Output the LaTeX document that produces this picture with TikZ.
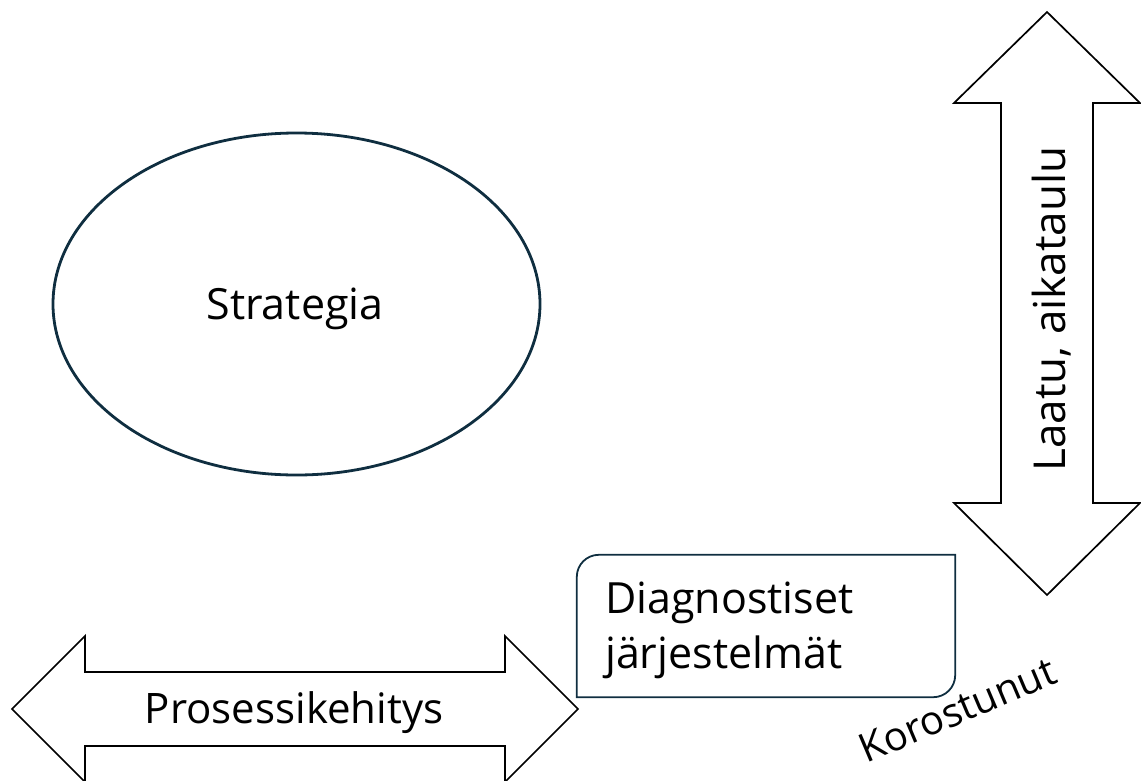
\documentclass[tikz,border=0pt]{standalone}
\usepackage{fontspec}
\setmainfont{Open Sans}
\usetikzlibrary{shapes.geometric}
\definecolor{navyline}{HTML}{0F2E40}
\begin{document}
\begin{tikzpicture}[x=1pt,y=-1pt,
  bigarrow/.style={draw=black,line width=1.7pt,line join=miter,fill=white},
  navyshape/.style={draw=navyline},
  lbl/.style={inner sep=0pt,text=black,anchor=base},
]
\useasboundingbox (0,0) rectangle (1141,780);

% strategy ellipse
\node[navyshape,ellipse,line width=2.8pt,minimum width=487pt,minimum height=342pt,inner sep=0pt] (strategia) at (296.5,304) {};
\node[lbl,font=\fontsize{43}{50}\selectfont] (strategiatext) at (295,319) {Strategia};

% horizontal double arrow
\coordinate (hl) at (12,709);
\coordinate (hr) at (578,709);
\draw[bigarrow] (hl) -- (85,636) -- (85,672) -- (505,672) -- (505,636) -- (hr)
  -- (505,782) -- (505,746) -- (85,746) -- (85,782) -- cycle;
\node[lbl,font=\fontsize{42}{48}\selectfont] (prosessi) at (294,723) {Prosessikehitys};

% vertical double arrow
\coordinate (vt) at (1047,12);
\coordinate (vb) at (1047,595);
\draw[bigarrow] (vt) -- (1140,103) -- (1093,103) -- (1093,503) -- (1140,503) -- (vb)
  -- (954,503) -- (1001,503) -- (1001,103) -- (954,103) -- cycle;
\node[lbl,rotate=90,font=\fontsize{44}{50}\selectfont] (laatu) at (1065,309) {Laatu, aikataulu};

% diagnostic systems box, rounded at top left and bottom right
\node[minimum width=378pt,minimum height=142pt,inner sep=0pt] (box) at (766,626) {};
\draw[navyshape,line width=1.8pt]
  ([yshift=-22pt]box.north west) arc[start angle=180,end angle=90,radius=22pt]
  -- (box.north east) -- ([yshift=22pt]box.south east)
  arc[start angle=0,end angle=-90,radius=22pt]
  -- (box.south west) -- cycle;
\node[lbl,anchor=base west,font=\fontsize{43}{48}\selectfont] (diag1) at (605,613) {Diagnostiset};
\node[lbl,anchor=base west,font=\fontsize{43}{48}\selectfont] (diag2) at (605,668) {järjestelmät};

% rotated label
\node[lbl,rotate=23,font=\fontsize{40}{46}\selectfont] (korostunut) at (963,723) {Korostunut};
\end{tikzpicture}
\end{document}
